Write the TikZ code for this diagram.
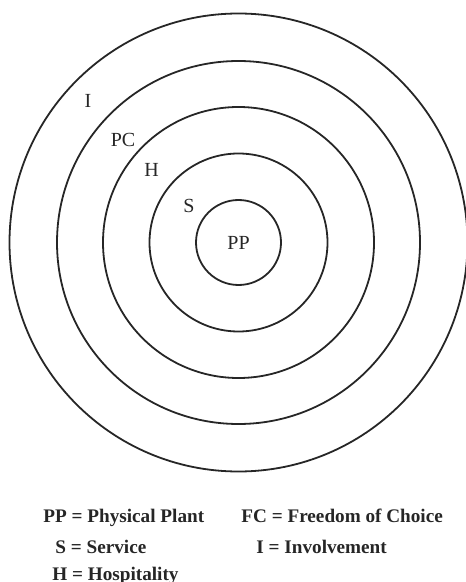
\documentclass[tikz,border=0pt]{standalone}
\usepackage{fontspec}
\setmainfont{Liberation Serif}
\usetikzlibrary{positioning}

\tikzset{
  ring/.style={draw=black!85, line width=0.9pt},
  zone/.style={font=\fontsize{10}{12}\selectfont, inner sep=0pt, text=black!85},
  key/.style={font=\fontsize{9.6}{12}\selectfont\bfseries, inner sep=0pt,
              anchor=base west, text=black!85},
}

\begin{document}
\begin{tikzpicture}[x=0.5pt, y=-0.5pt]
  \useasboundingbox (0,0) rectangle (465,582);

  % =======================================================================
  % the rings, innermost first
  % =======================================================================
  \coordinate (core) at (238.5,242.5);
  \foreach \r in {42.5, 89, 135.5, 181.5, 229} {
    \draw[ring] (core) circle[radius=\r];
  }

  % ring labels
  \node[zone] (pp) at (core)      {PP};
  \node[zone] (s)  at (189,206)   {S};
  \node[zone] (h)  at (151.5,169.5) {H};
  \node[zone] (pc) at (123,140)   {PC};
  \node[zone] (i)  at (88,101)    {I};

  % =======================================================================
  % key
  % =======================================================================
  \node[key] (kpp) at (43,522)  {PP = Physical Plant};
  \node[key] (ks)  at (55,553)  {S = Service};
  \node[key] (kh)  at (52,580)  {H = Hospitality};
  \node[key] (kfc) at (241,522) {FC = Freedom of Choice};
  \node[key] (ki)  at (256,553) {I = Involvement};

\end{tikzpicture}
\end{document}
